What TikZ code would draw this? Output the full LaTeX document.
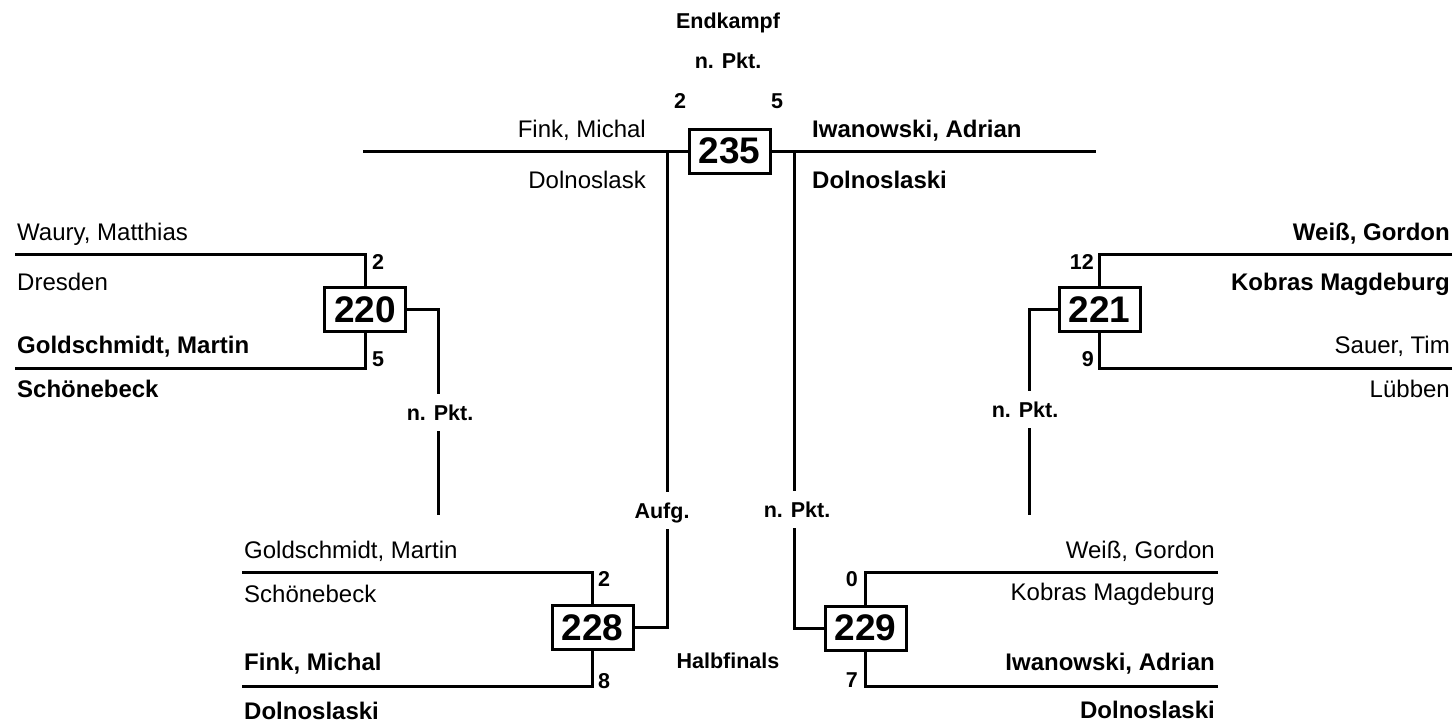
\documentclass[tikz,border=0pt]{standalone}
\usepackage{fontspec}
\setmainfont{Liberation Sans}
\tikzstyle{bar} = [line width=3pt]
\tikzstyle{match} = [draw, line width=3pt, minimum width=81pt, minimum height=44pt, inner sep=0pt, font=\fontsize{37}{37}\selectfont\bfseries]
\tikzstyle{player} = [inner sep=0pt, font=\fontsize{24}{24}\selectfont]
\tikzstyle{winner} = [player, font=\fontsize{24}{24}\selectfont\bfseries]
\tikzstyle{note} = [inner sep=0pt, anchor=base, font=\fontsize{21.5}{21.5}\selectfont\bfseries]
\tikzstyle{result} = [note, text height=15pt, text depth=0pt, inner xsep=2pt, inner ysep=11pt]
\begin{document}
\begin{tikzpicture}[x=1pt, y=-1pt]
    \useasboundingbox (0,0) rectangle (1454,724);
    % Draw the matches
    \node[match] (m235) at (729.5,151) {235};
    \node[match] (m220) at (365,309.5) {220};
    \node[match] (m221) at (1099.5,309.5) {221};
    \node[match] (m228) at (592.5,627.5) {228};
    \node[match] (m229) at (865.5,628) {229};
    % Free ends of the lines
    \coordinate (t235l) at (363,151);
    \coordinate (t235r) at (1096,151);
    \coordinate (j235l) at (667,151);
    \coordinate (j235r) at (794,151);
    \coordinate (a220) at (15,254);
    \coordinate (b220) at (15,368);
    \coordinate (a221) at (1452,254);
    \coordinate (b221) at (1452,368);
    \coordinate (a228) at (242,572);
    \coordinate (b228) at (242,686);
    \coordinate (a229) at (1218,572);
    \coordinate (b229) at (1218,686);
    \coordinate (k220) at (438,515);
    \coordinate (k221) at (1029,515);
    % Headings and results
    \node[note] (ttl) at (728,28) {Endkampf};
    \node[note] (r235) at (728,68) {n. Pkt.};
    \node[note] (semis) at (728,668) {Halbfinals};
    \node[result] (r220) at (440,420) {n. Pkt.};
    \node[result] (r221) at (1025,417) {n. Pkt.};
    \node[result] (r228) at (662,518) {Aufg.};
    \node[result] (r229) at (797,517) {n. Pkt.};
    % Scores
    \node[note] (s235a) at (680,108) {2};
    \node[note] (s235b) at (777,108) {5};
    \foreach \pos/\name/\pts in {{(372,269)/s220a/2},{(372,366)/s220b/5},
        {(598,586)/s228a/2},{(598,688)/s228b/8}}
    \node[note, anchor=base west] (\name) at \pos {\pts};
    \foreach \pos/\name/\pts in {{(1094,269)/s221a/12},{(1094,366)/s221b/9},
        {(858,586)/s229a/0},{(858,687)/s229b/7}}
    \node[note, anchor=base east] (\name) at \pos {\pts};
    % Players and clubs
    \foreach \pos/\name/\txt in {{(17,240)/n220a/Waury, Matthias},{(17,290)/c220a/Dresden},
        {(244,558)/n228a/Goldschmidt, Martin},{(244,602)/c228a/Schönebeck}}
    \node[player, anchor=base west] (\name) at \pos {\txt};
    \foreach \pos/\name/\txt in {{(17,353)/n220b/Goldschmidt, Martin},{(17,397)/c220b/Schönebeck},
        {(244,670)/n228b/Fink, Michal},{(244,719)/c228b/Dolnoslaski},
        {(812,137)/n235b/Iwanowski, Adrian},{(812,188)/c235b/Dolnoslaski}}
    \node[winner, anchor=base west] (\name) at \pos {\txt};
    \foreach \pos/\name/\txt in {{(646,137)/n235a/Fink, Michal},{(646,188)/c235a/Dolnoslask},
        {(1450,353)/n221b/Sauer, Tim},{(1450,397)/c221b/Lübben},
        {(1215,558)/n229a/Weiß, Gordon},{(1215,600)/c229a/Kobras Magdeburg}}
    \node[player, anchor=base east] (\name) at \pos {\txt};
    \foreach \pos/\name/\txt in {{(1450,240)/n221a/Weiß, Gordon},{(1450,290)/c221a/Kobras Magdeburg},
        {(1215,670)/n229b/Iwanowski, Adrian},{(1215,718)/c229b/Dolnoslaski}}
    \node[winner, anchor=base east] (\name) at \pos {\txt};
    % Connect the brackets
    \draw[bar] (t235l) -- (m235) -- (t235r);
    \foreach \m in {220,221,228,229} {
        \draw[bar] (a\m) -| (m\m.north);
        \draw[bar] (b\m) -| (m\m.south);
    }
    \draw[bar] (m220.east) -| (k220 |- r220.north);
    \draw[bar] (k220 |- r220.south) -- (k220);
    \draw[bar] (m221.west) -| (k221 |- r221.north);
    \draw[bar] (k221 |- r221.south) -- (k221);
    \draw[bar] (j235l) -- (j235l |- r228.north);
    \draw[bar] (j235l |- r228.south) |- (m228.east);
    \draw[bar] (j235r) -- (j235r |- r229.north);
    \draw[bar] (j235r |- r229.south) |- (m229.west);
\end{tikzpicture}
\end{document}
